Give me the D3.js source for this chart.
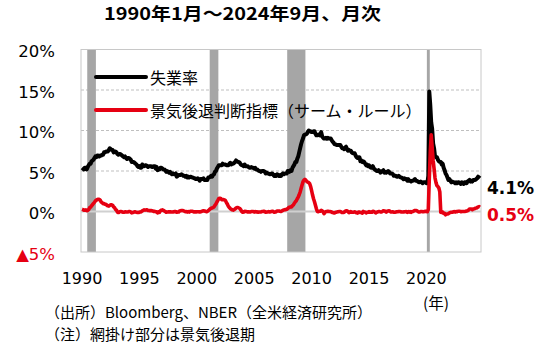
<!DOCTYPE html>
<html><head><meta charset="utf-8">
<script src="https://cdn.jsdelivr.net/npm/d3@7/dist/d3.min.js"></script>
<style>body{margin:0;background:#fff}</style></head>
<body><svg id="c" width="550" height="344"></svg>
<script>
const startYear = 1990;
// US unemployment rate (%), monthly, 1990-01 .. 2024-09
const unemployment = [
5.4,5.3,5.2,5.4,5.4,5.2,5.5,5.7,5.9,5.9,6.2,6.3,
6.4,6.6,6.8,6.7,6.9,6.9,6.8,6.9,6.9,7.0,7.0,7.3,
7.3,7.4,7.4,7.4,7.6,7.8,7.7,7.6,7.6,7.3,7.4,7.4,
7.3,7.1,7.0,7.1,7.1,7.0,6.9,6.8,6.7,6.8,6.6,6.5,
6.6,6.6,6.5,6.4,6.1,6.1,6.1,6.0,5.9,5.8,5.6,5.5,
5.6,5.4,5.4,5.8,5.6,5.6,5.7,5.7,5.6,5.5,5.6,5.6,
5.6,5.5,5.5,5.6,5.6,5.3,5.5,5.1,5.2,5.2,5.4,5.4,
5.3,5.2,5.2,5.1,4.9,5.0,4.9,4.8,4.9,4.7,4.6,4.7,
4.6,4.6,4.7,4.3,4.4,4.5,4.5,4.5,4.6,4.5,4.4,4.4,
4.3,4.4,4.2,4.3,4.2,4.3,4.3,4.2,4.2,4.1,4.1,4.0,
4.0,4.1,4.0,3.8,4.0,4.0,4.0,4.1,3.9,3.9,3.9,3.9,
4.2,4.2,4.3,4.4,4.3,4.5,4.6,4.9,5.0,5.3,5.5,5.7,
5.7,5.7,5.7,5.9,5.8,5.8,5.8,5.7,5.7,5.7,5.9,6.0,
5.8,5.9,5.9,6.0,6.1,6.3,6.2,6.1,6.1,6.0,5.8,5.7,
5.7,5.6,5.8,5.6,5.6,5.6,5.5,5.4,5.4,5.5,5.4,5.4,
5.3,5.4,5.2,5.2,5.1,5.0,5.0,4.9,5.0,5.0,5.0,4.9,
4.7,4.8,4.7,4.7,4.6,4.6,4.7,4.7,4.5,4.4,4.5,4.4,
4.6,4.5,4.4,4.5,4.4,4.6,4.7,4.6,4.7,4.7,4.7,5.0,
5.0,4.9,5.1,5.0,5.4,5.6,5.8,6.1,6.1,6.5,6.8,7.3,
7.8,8.3,8.7,9.0,9.4,9.5,9.5,9.6,9.8,10.0,9.9,9.9,
9.8,9.8,9.9,9.9,9.6,9.4,9.4,9.5,9.5,9.4,9.8,9.3,
9.1,9.0,9.0,9.1,9.0,9.1,9.0,9.0,9.0,8.8,8.6,8.5,
8.3,8.3,8.2,8.2,8.2,8.2,8.2,8.0,7.8,7.8,7.7,7.9,
8.0,7.7,7.5,7.6,7.5,7.5,7.3,7.2,7.2,7.2,6.9,6.7,
6.6,6.7,6.7,6.2,6.3,6.1,6.2,6.1,5.9,5.7,5.8,5.6,
5.7,5.5,5.4,5.4,5.6,5.3,5.2,5.1,5.0,5.0,5.1,5.0,
4.8,4.9,5.0,5.1,4.8,4.9,4.8,4.9,5.0,4.9,4.7,4.7,
4.7,4.6,4.4,4.4,4.4,4.3,4.3,4.4,4.3,4.2,4.2,4.1,
4.0,4.1,4.0,4.0,3.8,4.0,3.8,3.8,3.7,3.8,3.8,3.9,
4.0,3.8,3.8,3.7,3.6,3.6,3.7,3.6,3.5,3.6,3.6,3.6,
3.5,3.5,4.4,14.8,13.2,11.0,10.2,8.4,7.8,6.8,6.7,6.7,
6.4,6.2,6.1,6.1,5.8,5.9,5.4,5.1,4.7,4.5,4.2,3.9,
4.0,3.8,3.6,3.7,3.6,3.6,3.5,3.6,3.5,3.6,3.6,3.5,
3.4,3.6,3.5,3.4,3.6,3.6,3.5,3.7,3.8,3.9,3.7,3.8,
3.7,3.9,3.9,3.9,4.0,4.1,4.3,4.2,4.1
];
// Sahm-rule recession indicator (%), monthly, 1990-01 .. 2024-09
const sahmRule = [
0.27,0.23,0.17,0.17,0.2,0.1,0.13,0.23,0.47,0.53,0.7,0.83,
1.0,1.13,1.3,1.4,1.47,1.5,1.5,1.4,1.17,1.1,0.97,0.97,
0.9,0.9,0.77,0.7,0.67,0.77,0.83,0.83,0.77,0.57,0.47,0.27,
0.17,-0.07,-0.13,-0.07,0,0,-0.07,-0.1,-0.1,-0.03,-0.07,-0.07,
-0.07,0,0,-0.07,-0.17,-0.13,-0.1,-0.03,-0.07,-0.1,-0.13,-0.13,
-0.07,-0.07,-0.03,0.07,0.13,0.2,0.17,0.2,0.2,0.13,0.13,0.1,
0.13,0.1,0.07,0,0.03,-0.03,-0.03,-0.17,-0.03,-0.1,0.1,0.17,
0.2,0.13,0.07,0,-0.1,-0.07,-0.07,-0.03,-0.03,-0.07,-0.07,-0.07,
-0.03,0,0,-0.1,-0.07,-0.07,0.07,0.1,0.13,0.13,0.1,0.03,
-0.03,0,-0.07,0,-0.07,0.03,0.03,0.03,0,-0.07,-0.03,-0.07,
-0.03,-0.03,-0.03,-0.07,-0.03,0,0.07,0.1,0.07,0.03,-0.03,0,
0.1,0.2,0.33,0.4,0.43,0.5,0.57,0.77,0.93,1.17,1.37,1.6,
1.63,1.6,1.47,1.47,1.47,1.43,1.33,1.1,0.9,0.63,0.5,0.37,
0.27,0.2,0.17,0.23,0.3,0.43,0.5,0.5,0.43,0.37,0.2,0,
-0.1,-0.07,0.03,0,0,-0.07,-0.03,-0.07,-0.07,0,0,0,
-0.07,0,-0.07,-0.03,-0.1,-0.07,-0.07,-0.07,0,0,0.03,0,
-0.1,-0.07,-0.07,0,-0.07,-0.03,0,0.03,0,-0.1,-0.07,-0.03,
0.07,0.07,0.07,0.03,0,0.07,0.13,0.2,0.23,0.23,0.27,0.37,
0.47,0.53,0.57,0.57,0.73,0.83,1.03,1.2,1.33,1.57,1.77,2.07,
2.4,2.83,3.27,3.67,3.87,3.97,3.87,3.7,3.63,3.57,3.43,3.07,
2.57,2.03,1.57,1.2,0.77,0.33,0,-0.03,0.03,0.03,0.13,0.07,
-0.03,-0.27,-0.1,0,0,0.03,0,0,-0.03,-0.07,-0.13,-0.17,
-0.17,-0.1,-0.1,-0.03,-0.03,0,0,-0.07,-0.13,-0.13,-0.1,0.03,
0.1,0.1,-0.03,-0.13,-0.07,0,-0.1,-0.1,-0.1,-0.03,-0.1,-0.17,
-0.2,-0.07,-0.07,-0.13,-0.13,-0.2,0,-0.07,-0.07,-0.17,-0.1,-0.1,
0,-0.1,-0.07,-0.1,0.03,0,-0.07,-0.17,-0.1,-0.07,0,0,
-0.07,-0.07,0,0.1,0.07,0.03,-0.07,0.03,0.07,0.1,0.03,-0.07,
-0.07,-0.03,-0.1,-0.1,-0.07,-0.03,-0.03,0,0,-0.03,-0.07,-0.07,
-0.07,-0.03,-0.03,0,-0.1,0,-0.07,0,-0.1,0,0,0.07,
0.13,0.13,0.1,0,-0.07,-0.07,0,0,-0.03,-0.03,0,0.03,
0,-0.03,0.27,4.03,7.27,9.47,7.93,6.33,5.27,4.13,3.57,3.2,
3.07,2.9,2.43,-0.1,-0.13,-0.07,-0.23,-0.23,-0.4,-0.3,-0.3,-0.27,
-0.17,-0.13,-0.1,-0.1,-0.07,0,-0.07,0,-0.03,0.03,0.03,0.03,
-0.03,0,0,0,0,0.03,0.07,0.1,0.17,0.3,0.3,0.3,
0.23,0.3,0.33,0.4,0.43,0.47,0.57,0.6,0.53
];
// NBER recessions (start month, end month)
const recessions = [["1990-07","1991-03"],["2001-03","2001-11"],["2007-12","2009-06"],["2020-02","2020-04"]];
const xTickYears = [1990,1995,2000,2005,2010,2015,2020];
const yTicks = [-5,0,5,10,15,20];
const yTickLabels = ["▲5%","0%","5%","10%","15%","20%"];
const seriesNames = ["失業率","景気後退判断指標（サーム・ルール）"];
const endLabels = ["4.1%","0.5%"];
const titleText = "1990年1月～2024年9月、月次";
const notes = ["（出所）Bloomberg、NBER（全米経済研究所）","（注）網掛け部分は景気後退期"];

const RED = "#e60012";
const svg = d3.select("#c");
const n = unemployment.length;
const x = d3.scaleLinear().domain([0, n-1]).range([82, 480]);
const y = d3.scaleLinear().domain([-5, 20]).range([252, 49.5]);
const mIdx = s => { const [yy, mm] = s.split("-").map(Number); return (yy - startYear)*12 + (mm-1); };
const L = 81, R = 481;

// gridlines
svg.append("g").selectAll("line").data([5,10,15]).join("line")
  .attr("x1", L).attr("x2", R).attr("y1", d=>y(d)).attr("y2", d=>y(d))
  .attr("stroke", "#bfbfbf").attr("stroke-width", 1).attr("stroke-dasharray", "3,2");

// recession bars
svg.append("g").selectAll("rect").data(recessions).join("rect")
  .attr("x", d => x(mIdx(d[0])) - 0.5)
  .attr("width", d => x(mIdx(d[1])) - x(mIdx(d[0])) + 1)
  .attr("y", y(20)).attr("height", y(-5) - y(20))
  .attr("fill", "#a6a6a6");

// frame
svg.append("rect").attr("x", L).attr("y", y(20)).attr("width", R-L).attr("height", y(-5)-y(20))
  .attr("fill", "none").attr("stroke", "#c8c8c8").attr("stroke-width", 1);
// zero line
svg.append("line").attr("x1", L).attr("x2", R).attr("y1", y(0)).attr("y2", y(0))
  .attr("stroke", "#d0d0d0").attr("stroke-width", 2);

// lines
const line = d3.line().x((d,i)=>x(i)).y(d=>y(d)).curve(d3.curveLinear);
svg.append("path").datum(unemployment).attr("d", line)
  .attr("fill","none").attr("stroke","#000").attr("stroke-width",4).attr("stroke-linejoin","round");
svg.append("path").datum(sahmRule).attr("d", line)
  .attr("fill","none").attr("stroke",RED).attr("stroke-width",3.6).attr("stroke-linejoin","round");

// y labels
svg.append("g").selectAll("text").data(yTicks).join("text")
  .attr("x", 55).attr("y", d => y(d) + 2).attr("text-anchor","end").attr("dominant-baseline","central")
  .attr("font-family","DejaVu Sans").attr("font-size",16.5)
  .attr("fill", d => d < 0 ? RED : "#000")
  .text((d,i) => yTickLabels[i]);

// x labels
svg.append("g").selectAll("text").data(xTickYears).join("text")
  .attr("x", d => x((d - startYear)*12)).attr("y", 284).attr("text-anchor","middle")
  .attr("font-family","DejaVu Sans").attr("font-size",16)
  .text(d => d);

// title
svg.append("text").attr("x", 104).attr("y", 12.8).attr("dominant-baseline","central")
  .attr("font-family","Noto Sans CJK JP").attr("font-weight","bold").attr("font-size",17.5)
  .attr("textLength", 277).attr("lengthAdjust","spacingAndGlyphs")
  .text(titleText);

// legend
const lg = svg.append("g");
[["#000", 77], [RED, 110]].forEach((c, i) => {
  lg.append("line").attr("x1", 96).attr("x2", 146).attr("y1", c[1]).attr("y2", c[1])
    .attr("stroke", c[0]).attr("stroke-width", 4).attr("stroke-linecap","round");
  lg.append("text").attr("x", 150).attr("y", c[1]).attr("dominant-baseline","central")
    .attr("font-family","Noto Sans CJK JP").attr("font-size",16).text(seriesNames[i]);
});

// end labels
svg.append("text").attr("x", 487).attr("y", 188).attr("dominant-baseline","central")
  .attr("font-family","DejaVu Sans").attr("font-weight","bold").attr("font-size",17).text(endLabels[0]);
svg.append("text").attr("x", 487).attr("y", 215).attr("dominant-baseline","central")
  .attr("font-family","DejaVu Sans").attr("font-weight","bold").attr("font-size",17).attr("fill",RED).text(endLabels[1]);

// notes
svg.append("text").attr("x", 423).attr("y", 302).attr("dominant-baseline","central")
  .attr("font-family","Noto Sans CJK JP").attr("font-size",15.5).text("(年)");
notes.forEach((t,i) => {
  svg.append("text").attr("x", 45).attr("y", 311 + i*22).attr("dominant-baseline","central")
    .attr("font-family","Noto Sans CJK JP").attr("font-size",15).text(t);
});
</script></body></html>
